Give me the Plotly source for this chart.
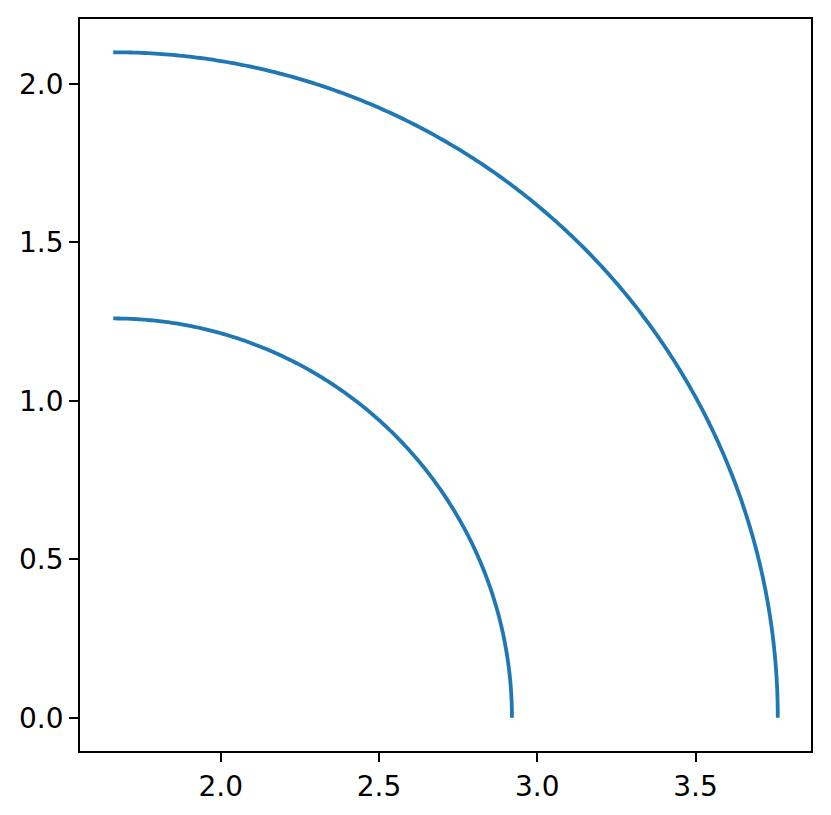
import numpy as np
import plotly.graph_objects as go

# Two quarter arcs sharing one centre
center_x = 1.66
center_y = 0.0
radii = [1.26, 2.1]
x_ticks = [2.0, 2.5, 3.0, 3.5]
y_ticks = [0.0, 0.5, 1.0, 1.5, 2.0]

theta = np.linspace(0, np.pi / 2, 300)

fig = go.Figure()
for r in radii:
    fig.add_trace(
        go.Scatter(
            x=center_x + r * np.cos(theta),
            y=center_y + r * np.sin(theta),
            mode="lines",
            line=dict(color="#1f77b4", width=3.8, simplify=False),
            showlegend=False,
        )
    )

axis_style = dict(
    showgrid=False,
    zeroline=False,
    showline=True,
    linecolor="black",
    linewidth=1.8,
    mirror=True,
    ticks="outside",
    ticklen=9,
    tickwidth=1.8,
    tickcolor="black",
    tickfont=dict(family="DejaVu Sans", size=28, color="black"),
    tickformat=".1f",
    ticklabelstandoff=0,
    automargin=False,
)

fig.update_xaxes(range=[1.555, 3.865], tickvals=x_ticks, **axis_style)
fig.update_yaxes(range=[-0.105, 2.205], tickvals=y_ticks, **axis_style)

# page body adds ~8px offset, so margins are shifted to compensate
fig.update_layout(
    width=831,
    height=815,
    margin=dict(l=72, r=28, t=11, b=72),
    plot_bgcolor="white",
    paper_bgcolor="white",
)

fig.write_html("out.html")
